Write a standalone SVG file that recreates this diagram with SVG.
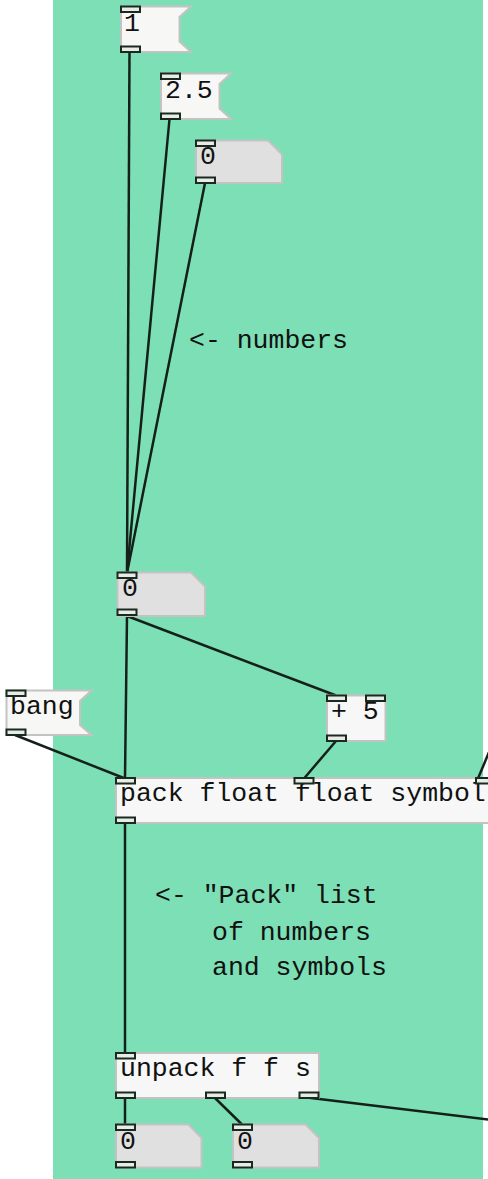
<svg xmlns="http://www.w3.org/2000/svg" width="488" height="1179" viewBox="0 0 488 1179">
  <style>
    .canvas { fill: #7ddfb6; }
    .box { fill: #f6f7f6; stroke: #c3c3c3; stroke-width: 2; }
    .msg { fill: #f7f7f5; stroke: #c3c3c3; stroke-width: 2; }
    .num { fill: #e0e0e0; stroke: #c3c3c3; stroke-width: 2; }
    .port { fill: #e8ece8; stroke: #1b2a1f; stroke-width: 2; }
    .wire { stroke: #15201a; stroke-width: 2.5; fill: none; }
    text { font-family: "Liberation Mono", "DejaVu Sans Mono", monospace; font-size: 26.5px; fill: #111111; }
  </style>
  <defs>
    <rect id="port" class="port" width="19" height="5.5"/>
  </defs>

  <rect class="canvas" x="53" y="0" width="430" height="1179"/>

  <!-- patch cords -->
  <g id="connectors">
    <line class="wire" x1="129.5" y1="52" x2="127" y2="573"/>
    <line class="wire" x1="169.5" y1="119" x2="127" y2="573"/>
    <line class="wire" x1="205" y1="183" x2="127" y2="573"/>
    <line class="wire" x1="127" y1="616" x2="125" y2="778"/>
    <line class="wire" x1="127" y1="616" x2="336" y2="695.5"/>
    <line class="wire" x1="15" y1="735" x2="125" y2="778.5"/>
    <line class="wire" x1="336" y1="741" x2="304" y2="778.5"/>
    <line class="wire" x1="492" y1="745" x2="478" y2="778.5"/>
    <line class="wire" x1="125" y1="823" x2="125" y2="1053"/>
    <line class="wire" x1="125" y1="1098" x2="125" y2="1124.5"/>
    <line class="wire" x1="215" y1="1098" x2="242" y2="1124.5"/>
    <line class="wire" x1="307" y1="1097.5" x2="492" y2="1120"/>
  </g>

  <!-- message: 1 -->
  <g id="msg-1">
    <path class="msg" d="M121,6.5 H191 L179.5,17 V41.5 L191,52 H121 Z"/>
    <text x="124" y="31">1</text>
    <use href="#port" x="121" y="6.5"/>
    <use href="#port" x="121" y="46.5"/>
  </g>

  <!-- message: 2.5 -->
  <g id="msg-2-5">
    <path class="msg" d="M161,73.5 H231 L219.5,84 V108.5 L231,119 H161 Z"/>
    <text x="165" y="97.5">2.5</text>
    <use href="#port" x="161" y="73.5"/>
    <use href="#port" x="161" y="113.5"/>
  </g>

  <!-- number box (top) -->
  <g id="num-top">
    <path class="num" d="M196,140.5 H268 L282,154.5 V183 H196 Z"/>
    <text x="200" y="164">0</text>
    <use href="#port" x="196" y="140.5"/>
    <use href="#port" x="196" y="177.5"/>
  </g>

  <!-- comment -->
  <g id="comment-numbers">
    <text x="189" y="347.5">&lt;- numbers</text>
  </g>

  <!-- number box (middle) -->
  <g id="num-mid">
    <path class="num" d="M117.5,572.5 H191 L205,586.5 V616 H117.5 Z"/>
    <text x="122" y="596">0</text>
    <use href="#port" x="117.5" y="572.5"/>
    <use href="#port" x="117.5" y="609.5"/>
  </g>

  <!-- message: bang -->
  <g id="msg-bang">
    <path class="msg" d="M6.5,690.5 H91.5 L80,701 V725 L91.5,735 H6.5 Z"/>
    <text x="10" y="713.5">bang</text>
    <use href="#port" x="6.5" y="690.5"/>
    <use href="#port" x="6.5" y="729.5"/>
  </g>

  <!-- object: + 5 -->
  <g id="obj-plus">
    <rect class="box" x="327" y="695.5" width="58.5" height="45.5"/>
    <text x="331" y="718.5">+ 5</text>
    <use href="#port" x="327" y="695.5"/>
    <use href="#port" x="366" y="695.5"/>
    <use href="#port" x="327" y="735.5"/>
  </g>

  <!-- object: pack -->
  <g id="obj-pack">
    <rect class="box" x="116" y="778" width="390" height="45"/>
    <text x="120" y="800.5">pack float float symbol</text>
    <use href="#port" x="116" y="778"/>
    <use href="#port" x="294.5" y="778"/>
    <use href="#port" x="476" y="778"/>
    <use href="#port" x="116" y="817.5"/>
  </g>

  <!-- comment -->
  <g id="comment-pack">
    <text x="155" y="902.5">&lt;- "Pack" list</text>
    <text x="212" y="940">of numbers</text>
    <text x="212" y="975">and symbols</text>
  </g>

  <!-- object: unpack -->
  <g id="obj-unpack">
    <rect class="box" x="116" y="1053" width="203" height="45"/>
    <text x="120" y="1075.5">unpack f f s</text>
    <use href="#port" x="116" y="1053"/>
    <use href="#port" x="116" y="1092.5"/>
    <use href="#port" x="206" y="1092.5"/>
    <use href="#port" x="299.5" y="1092.5"/>
  </g>

  <!-- number boxes (bottom) -->
  <g id="num-out-1">
    <path class="num" d="M116,1124.5 H188.5 L201.5,1138 V1167.5 H116 Z"/>
    <text x="120" y="1148.5">0</text>
    <use href="#port" x="116" y="1124.5"/>
    <use href="#port" x="116" y="1162"/>
  </g>
  <g id="num-out-2">
    <path class="num" d="M233,1124.5 H305.5 L319,1138 V1167.5 H233 Z"/>
    <text x="237" y="1148.5">0</text>
    <use href="#port" x="233" y="1124.5"/>
    <use href="#port" x="233" y="1162"/>
  </g>
</svg>
